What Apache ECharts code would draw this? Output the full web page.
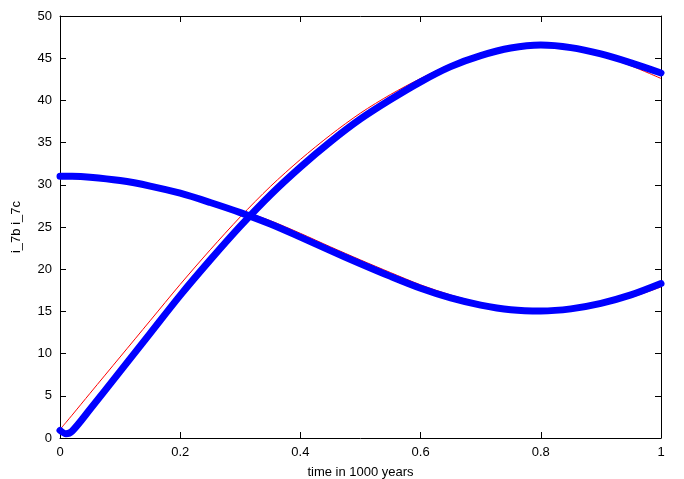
<!DOCTYPE html>
<html><head><meta charset="utf-8">
<script src="https://cdn.jsdelivr.net/npm/echarts@6/dist/echarts.min.js"></script>
<style>html,body{margin:0;padding:0;background:#fff}#c{width:684px;height:479px}</style>
</head><body><div id="c"></div>
<script>
const xTime = [0, 0.01, 0.02, 0.05, 0.1, 0.15, 0.2, 0.25, 0.3, 0.35, 0.4, 0.45, 0.5, 0.55, 0.6, 0.65, 0.7, 0.75, 0.8, 0.85, 0.9, 0.95, 1.0];
const redRise  = [1.0, 1.85, 2.7, 5.3, 9.6, 13.9, 18.2, 22.3, 26.2, 29.8, 33.0, 35.9, 38.5, 40.7, 42.6, 44.3, 45.5, 46.2, 46.55, 46.2, 45.35, 44.1, 42.6];
const blueRise = [0.9, 0.5, 0.8, 3.4, 7.9, 12.4, 16.9, 21.1, 25.1, 28.8, 32.1, 35.1, 37.8, 40.1, 42.2, 44.0, 45.3, 46.2, 46.55, 46.25, 45.5, 44.45, 43.25];
const redFall  = [31.0, 31.0, 31.0, 30.9, 30.5, 29.9, 29.1, 28.1, 27.0, 25.75, 24.25, 22.65, 21.1, 19.6, 18.15, 16.95, 16.0, 15.35, 15.05, 15.2, 15.75, 16.65, 17.9];
const blueFall = [31.0, 31.0, 31.0, 30.9, 30.5, 29.85, 29.0, 27.9, 26.7, 25.35, 23.8, 22.2, 20.65, 19.15, 17.75, 16.6, 15.75, 15.2, 15.05, 15.3, 15.95, 16.95, 18.3];
const xTicks = [0, 0.2, 0.4, 0.6, 0.8, 1];
const yTicks = [0, 5, 10, 15, 20, 25, 30, 35, 40, 45, 50];

const pair = ys => xTime.map((x, i) => [x, ys[i]]);
const font = 'Liberation Sans, Arial, sans-serif';
const axLine = {show: true, onZero: false, lineStyle: {color: '#000', width: 1}};
const tick = {show: true, inside: true, length: 6, lineStyle: {color: '#000', width: 1}};
const chart = echarts.init(document.getElementById('c'), null, {renderer: 'canvas'});
chart.setOption({
  animation: false,
  backgroundColor: '#fff',
  grid: {left: 60, right: 23, top: 16, bottom: 41, containLabel: false, outerBoundsMode: 'none'},
  xAxis: [{
    type: 'value', min: 0, max: 1, interval: 0.2, position: 'bottom',
    name: 'time in 1000 years', nameLocation: 'middle', nameGap: 28,
    nameTextStyle: {fontFamily: font, fontSize: 13, color: '#000'},
    axisLine: axLine, axisTick: tick, splitLine: {show: false},
    axisLabel: {fontFamily: font, fontSize: 13, color: '#000', margin: 8,
      formatter: v => xTicks.includes(+v.toFixed(1)) ? String(+v.toFixed(1)) : ''}
  }, {
    type: 'value', min: 0, max: 1, interval: 0.2, position: 'top',
    axisLine: axLine, axisTick: tick, axisLabel: {show: false}, splitLine: {show: false}
  }],
  yAxis: [{
    type: 'value', min: 0, max: 50, interval: 5, position: 'left',
    name: 'i_7b i_7c', nameLocation: 'middle', nameGap: 37, nameRotate: 90,
    nameTextStyle: {fontFamily: font, fontSize: 13, color: '#000'},
    axisLine: axLine, axisTick: tick, splitLine: {show: false},
    axisLabel: {fontFamily: font, fontSize: 13, color: '#000', margin: 8,
      formatter: v => yTicks.includes(v) ? String(v) : ''}
  }, {
    type: 'value', min: 0, max: 50, interval: 5, position: 'right',
    axisLine: axLine, axisTick: tick, axisLabel: {show: false}, splitLine: {show: false}
  }],
  series: [
    {type: 'line', data: pair(redRise), smooth: 0.3, showSymbol: false, lineStyle: {color: '#ff0000', width: 1}, z: 2},
    {type: 'line', data: pair(redFall), smooth: 0.3, showSymbol: false, lineStyle: {color: '#ff0000', width: 1}, z: 2},
    {type: 'line', data: pair(blueRise), smooth: 0.3, showSymbol: false, lineStyle: {color: '#0000ff', width: 7, cap: 'round', join: 'round'}, z: 3},
    {type: 'line', data: pair(blueFall), smooth: 0.3, showSymbol: false, lineStyle: {color: '#0000ff', width: 7, cap: 'round', join: 'round'}, z: 3}
  ]
});
</script></body></html>
